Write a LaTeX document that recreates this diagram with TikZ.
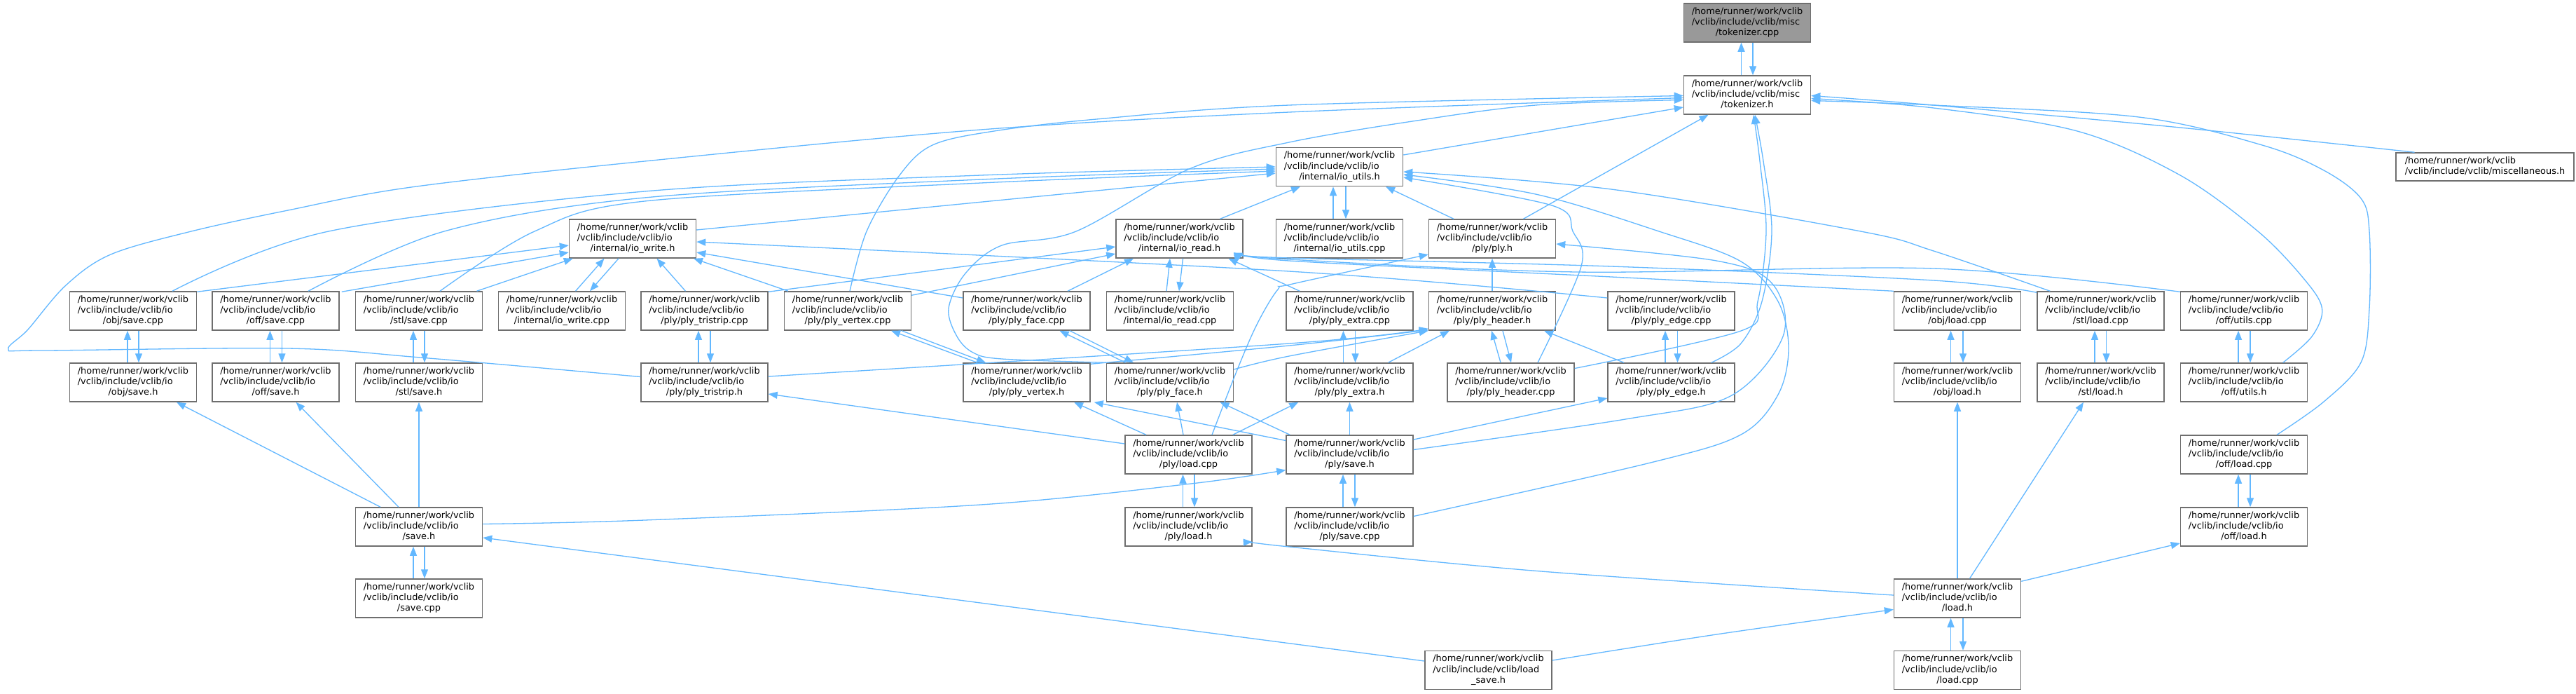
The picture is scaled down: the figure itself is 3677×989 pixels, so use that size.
\documentclass[tikz,border=0pt]{standalone}
\usepackage{fontspec}
\setmainfont{DejaVu Sans}
\usetikzlibrary{arrows.meta,calc}
\definecolor{edgecol}{RGB}{99,184,255}
\definecolor{bordercol}{RGB}{110,110,110}
\definecolor{hlfill}{RGB}{153,153,153}
\newcommand\flbl[3]{\begin{tabular}{@{}l@{}}#1\\#2\\\multicolumn{1}{@{}c@{}}{#3}\end{tabular}}
\newcommand\iol[1]{\flbl{/home/runner/work/vclib}{/vclib/include/vclib/io}{#1}}
\newcommand\twoway[4]{%
 \draw[dep] ($(#2.north)+(#3,0)$) -- ($(#1.south)+(#3,0)$);
 \draw[dep] ($(#1.south)+(#4,0)$) -- ($(#2.north)+(#4,0)$);}
\tikzset{
 fnode/.style={draw=bordercol, line width=1.5pt, fill=white, minimum width=181pt,
   minimum height=55pt, inner sep=0pt, font=\fontsize{12.9}{15.2}\selectfont},
 dep/.style={draw=edgecol, line width=1.3pt, -{Triangle[length=13pt,width=10pt,fill=edgecol]}},
}
\begin{document}
\begin{tikzpicture}[x=1pt,y=-1pt]
\fill[white] (0,0) rectangle (3677,989);
\useasboundingbox (0,0) rectangle (3677,989);
% row 0-2
\node[fnode,fill=hlfill] (tc) at (2494,32.5) {\flbl{/home/runner/work/vclib}{/vclib/include/vclib/misc}{/tokenizer.cpp}};
\node[fnode] (th) at (2494,135.5) {\flbl{/home/runner/work/vclib}{/vclib/include/vclib/misc}{/tokenizer.h}};
\node[fnode] (iou) at (1912,238) {\iol{/internal/io\_utils.h}};
\node[fnode,minimum width=254pt,minimum height=40pt] (misc) at (3547,238) {\begin{tabular}{@{}l@{}}/home/runner/work/vclib\\/vclib/include/vclib/miscellaneous.h\end{tabular}};
% row 3
\node[fnode] (iow) at (903,340.5) {\iol{/internal/io\_write.h}};
\node[fnode] (ior) at (1683.5,340.5) {\iol{/internal/io\_read.h}};
\node[fnode] (iouc) at (1912,340.5) {\iol{/internal/io\_utils.cpp}};
\node[fnode] (plyh) at (2130,340.5) {\iol{/ply/ply.h}};
% row 4
\node[fnode] (objsc) at (190,443.5) {\iol{/obj/save.cpp}};
\node[fnode] (offsc) at (393.5,443.5) {\iol{/off/save.cpp}};
\node[fnode] (stlsc) at (598,443.5) {\iol{/stl/save.cpp}};
\node[fnode] (iowc) at (802,443.5) {\iol{/internal/io\_write.cpp}};
\node[fnode] (tric) at (1005.5,443.5) {\iol{/ply/ply\_tristrip.cpp}};
\node[fnode] (vtxc) at (1210,443.5) {\iol{/ply/ply\_vertex.cpp}};
\node[fnode] (facec) at (1465.5,443.5) {\iol{/ply/ply\_face.cpp}};
\node[fnode] (iorc) at (1670,443.5) {\iol{/internal/io\_read.cpp}};
\node[fnode] (extrac) at (1926.5,443.5) {\iol{/ply/ply\_extra.cpp}};
\node[fnode] (hdrh) at (2130,443.5) {\iol{/ply/ply\_header.h}};
\node[fnode] (edgec) at (2385.5,443.5) {\iol{/ply/ply\_edge.cpp}};
\node[fnode] (objlc) at (2794,443.5) {\iol{/obj/load.cpp}};
\node[fnode] (stllc) at (2998.5,443.5) {\iol{/stl/load.cpp}};
\node[fnode] (offuc) at (3203,443.5) {\iol{/off/utils.cpp}};
% row 5
\node[fnode] (objsh) at (190,545.5) {\iol{/obj/save.h}};
\node[fnode] (offsh) at (393.5,545.5) {\iol{/off/save.h}};
\node[fnode] (stlsh) at (598,545.5) {\iol{/stl/save.h}};
\node[fnode] (trih) at (1005.5,545.5) {\iol{/ply/ply\_tristrip.h}};
\node[fnode] (vtxh) at (1465.5,545.5) {\iol{/ply/ply\_vertex.h}};
\node[fnode] (faceh) at (1670,545.5) {\iol{/ply/ply\_face.h}};
\node[fnode] (extrah) at (1926.5,545.5) {\iol{/ply/ply\_extra.h}};
\node[fnode] (hdrc) at (2156.5,545.5) {\iol{/ply/ply\_header.cpp}};
\node[fnode] (edgeh) at (2385.5,545.5) {\iol{/ply/ply\_edge.h}};
\node[fnode] (objlh) at (2794,545.5) {\iol{/obj/load.h}};
\node[fnode] (stllh) at (2998.5,545.5) {\iol{/stl/load.h}};
\node[fnode] (offuh) at (3203,545.5) {\iol{/off/utils.h}};
% row 6-9
\node[fnode] (plylc) at (1696.5,648.5) {\iol{/ply/load.cpp}};
\node[fnode] (plysh) at (1926.5,648.5) {\iol{/ply/save.h}};
\node[fnode] (offlc) at (3203,648.5) {\iol{/off/load.cpp}};
\node[fnode] (saveh) at (598,751.5) {\iol{/save.h}};
\node[fnode] (plylh) at (1696.5,751.5) {\iol{/ply/load.h}};
\node[fnode] (plysc) at (1926.5,751.5) {\iol{/ply/save.cpp}};
\node[fnode] (offlh) at (3203,751.5) {\iol{/off/load.h}};
\node[fnode] (savec) at (598,853.5) {\iol{/save.cpp}};
\node[fnode] (loadh) at (2794,853.5) {\iol{/load.h}};
\node[fnode] (lsh) at (2124.5,956) {\flbl{/home/runner/work/vclib}{/vclib/include/vclib/load}{\_save.h}};
\node[fnode] (loadc) at (2794,956) {\iol{/load.cpp}};
% two-way pairs
\twoway{tc}{th}{-8.5}{8}
\twoway{iou}{iouc}{-9}{9}
\twoway{objsc}{objsh}{-8}{8}
\twoway{offsc}{offsh}{-8}{9}
\twoway{stlsc}{stlsh}{-8}{8}
\twoway{tric}{trih}{-8.5}{8.5}
\twoway{extrac}{extrah}{-9}{8}
\twoway{edgec}{edgeh}{-8.5}{9}
\twoway{objlc}{objlh}{-9.5}{8}
\twoway{stllc}{stllh}{-8.5}{8}
\twoway{offuc}{offuh}{-8}{9}
\twoway{plylc}{plylh}{-8}{8.5}
\twoway{plysh}{plysc}{-9.5}{7.5}
\twoway{offlc}{offlh}{-8}{9}
\twoway{saveh}{savec}{-8}{8}
\twoway{loadh}{loadc}{-9.5}{8}
\draw[dep] ($(iorc.north)+(-5,0)$) -- ($(ior.south)+(-13.5,0)$);
\draw[dep] ($(ior.south)+(5,0)$) -- ($(iorc.north)+(13,0)$);
\draw[dep] ($(iowc.north)+(19.5,0)$) -- ($(iow.south)+(-40.5,0)$);
\draw[dep] ($(iow.south)+(-20,0)$) -- ($(iowc.north)+(40,0)$);
\draw[dep] ($(hdrc.north)+(-14.5,0)$) -- ($(hdrh.south)+(-1,0)$);
\draw[dep] ($(hdrh.south)+(15,0)$) -- ($(hdrc.north)+(0.5,0)$);
\draw[dep] ($(vtxh.north)+(-70.5,0)$) -- ($(vtxc.south)+(62,0)$);
\draw[dep] ($(vtxc.south)+(77,0)$) -- ($(vtxh.north)+(-58.5,0)$);
\draw[dep] ($(faceh.north)+(-63.5,0)$) -- ($(facec.south)+(47,0)$);
\draw[dep] ($(facec.south)+(61.5,0)$) -- ($(faceh.north)+(-52,0)$);
% into tokenizer.h
\draw[dep] ($(iou.east)+(0,-17)$) -- ($(th.west)+(0,17.5)$);
\draw[dep] ($(plyh.north)+(44.5,0)$) -- ($(th.south)+(-55.5,0)$);
\draw[dep] plot[smooth,tension=0.55] coordinates {($(trih.west)+(0,-8)$) (600,510) (411,497) (60,500) (12,498) (40,470) (94,407) (158,363) (273,330) (411,300) (587,267) (920,230) (1400,185) (1840,160) ($(th.west)+(0,4)$)};
\draw[dep] plot[smooth,tension=0.55] coordinates {($(vtxc.north)+(3,0)$) (1237,330) (1284,250) (1331,207) (1419,187) (1565,170) (1840,150) ($(th.west)+(0,1)$)};
\draw[dep] plot[smooth,tension=0.55] coordinates {($(faceh.north west)+(0,0)$) (1430,512) (1389,503) (1366,480) (1354,440) (1378,390) (1430,350) (1536,330) (1700,240) (1840,203) (2016,173) (2192,150) ($(th.west)+(0,7)$)};
\draw[dep] plot[smooth,tension=0.55] coordinates {($(misc.north)+(-100.5,0)$) (3112,182) (2760,150) ($(th.east)+(0,1)$)};
\draw[dep] plot[smooth,tension=0.55] coordinates {($(offuh.north)+(55.7,0)$) (3300,480) (3314.5,440) (3288,397) (3223,330) (3112,250) (2965,187) (2760,154) ($(th.east)+(0,5)$)};
\draw[dep] plot[smooth,tension=0.55] coordinates {($(offlc.north)+(47,0)$) (3317,573) (3370,517) (3382,440) (3382,330) (3370,283) (3317,243) (3229,207) (3053,167) (2760,150) ($(th.east)+(0,8)$)};
\draw[dep] plot[smooth,tension=0.55] coordinates {($(hdrc.east)+(0,-20)$) (2485,472) (2509,430) (2521,330) (2512,230) ($(th.south)+(9,0)$)};
\draw[dep] plot[smooth,tension=0.55] coordinates {($(edgeh.north east)+(-34,0)$) (2485,490) (2515,430) (2529,330) (2517,230) ($(th.south)+(11,0)$)};
% into io_utils.h
\draw[dep] ($(plyh.north)+(-55,0)$) -- ($(iou.south)+(66,0)$);
\draw[dep] ($(ior.north)+(58,0)$) -- ($(iou.south)+(-56,0)$);
\draw[dep] ($(iow.east)+(0,-12.5)$) -- ($(iou.west)+(0,9)$);
\draw[dep] plot[smooth,tension=0.55] coordinates {($(objsc.north)+(56,0)$) (469,330) (920,273) (1400,250) ($(iou.west)+(0,0)$)};
\draw[dep] plot[smooth,tension=0.55] coordinates {($(offsc.north)+(46.5,0)$) (634,330) (920,282) (1400,256) ($(iou.west)+(0,3)$)};
\draw[dep] plot[smooth,tension=0.55] coordinates {($(stlsc.north)+(30,0)$) (763,330) (920,287) (1400,261) ($(iou.west)+(0,6)$)};
\draw[dep] plot[smooth,tension=0.55] coordinates {($(hdrc.north)+(38.5,0)$) (2257,380) (2245,330) (2215,293) ($(iou.east)+(0,15)$)};
\draw[dep] plot[smooth,tension=0.55] coordinates {($(stllc.north west)+(19,0)$) (2760,358) (2656,330) (2300,270) ($(iou.east)+(0,7)$)};
\draw[dep] plot[smooth,tension=0.55] coordinates {($(plysc.east)+(0,-15)$) (2356,660) (2485,620) (2538,563) (2553,497) (2538,430) (2485,373) (2368,330) (2192,277) ($(iou.east)+(0,11)$)};
% into io_read.h
\draw[dep] ($(tric.north east)+(0,1)$) -- ($(ior.west)+(0,11.5)$);
\draw[dep] ($(vtxc.north east)+(0,6)$) -- ($(ior.west)+(0,21.5)$);
\draw[dep] ($(facec.north)+(58.5,0)$) -- ($(ior.south)+(-65.5,0)$);
\draw[dep] ($(extrac.north west)+(20,0)$) -- ($(ior.south)+(70,0)$);
\draw[dep] plot[smooth,tension=0.55] coordinates {($(objlc.north west)+(0,0)$) (2300,395) (1840,372) ($(ior.east)+(0,20)$)};
\draw[dep] plot[smooth,tension=0.55] coordinates {($(stllc.north west)+(0,2)$) (2760,400) (2300,380) (1840,368) ($(ior.east)+(0,23)$)};
\draw[dep] plot[smooth,tension=0.55] coordinates {($(offuc.north west)+(0,1)$) (2760,383) (2251,388) (1840,370) ($(ior.east)+(0,21)$)};
% into io_write.h
\draw[dep] ($(objsc.north east)+(0,1)$) -- ($(iow.west)+(0,9.5)$);
\draw[dep] ($(offsc.north east)+(3,1)$) -- ($(iow.west)+(0,19.5)$);
\draw[dep] ($(stlsc.north)+(82.5,0)$) -- ($(iow.south west)+(6,0)$);
\draw[dep] ($(tric.north)+(-27,0)$) -- ($(iow.south)+(34.5,0)$);
\draw[dep] ($(vtxc.north)+(-85,0)$) -- ($(iow.south)+(87,0)$);
\draw[dep] ($(facec.west)+(0,-18.5)$) -- ($(iow.east)+(0,19.5)$);
\draw[dep] plot[smooth,tension=0.55] coordinates {($(edgec.west)+(0,-18.5)$) (1840,387) ($(iow.east)+(0,4.5)$)};
% into ply.h
\draw[dep] (hdrh.north) -- (plyh.south);
\draw[dep] plot[smooth,tension=0.55] coordinates {($(plylc.north)+(33.5,0)$) (1765,530) (1794,463) (1824,413) (1845,405) ($(plyh.west)+(0,22.5)$)};
\draw[dep] plot[smooth,tension=0.55] coordinates {($(plysh.east)+(0,-7)$) (2320,598) (2470,565) (2545,480) (2530,405) (2450,372) ($(plyh.east)+(0,7.5)$)};
% into ply_header.h
\draw[dep] plot[smooth,tension=0.55] coordinates {($(trih.east)+(0,-8.5)$) (1840,490) ($(hdrh.south west)+(0,-3)$)};
\draw[dep] plot[smooth,tension=0.55] coordinates {($(vtxh.north east)+(0,2)$) (1840,493) ($(hdrh.south west)+(0,-1)$)};
\draw[dep] plot[smooth,tension=0.55] coordinates {($(faceh.east)+(0,-18.5)$) (1840,508) ($(hdrh.south west)+(0,0)$)};
\draw[dep] ($(extrah.north)+(55,0)$) -- ($(hdrh.south)+(-61,0)$);
\draw[dep] ($(edgeh.north)+(-67.5,0)$) -- ($(hdrh.south)+(74,0)$);
% lower ply
\draw[dep] ($(plysh.east)+(0,-21.5)$) -- ($(edgeh.west)+(0,22.5)$);
\draw[dep] (plysh.north) -- (extrah.south);
\draw[dep] ($(plylc.north east)+(-28,0)$) -- ($(extrah.south west)+(18,0)$);
\draw[dep] ($(plylc.north)+(-60.5,0)$) -- ($(vtxh.south)+(67.5,0)$);
\draw[dep] ($(plysh.west)+(0,-20)$) -- ($(vtxh.south east)+(5,0)$);
\draw[dep] ($(plysh.north west)+(6,0)$) -- ($(faceh.south)+(71.5,0)$);
\draw[dep] ($(plylc.north)+(-7.5,0)$) -- ($(faceh.south)+(10,0)$);
\draw[dep] ($(plylc.west)+(0,-15.5)$) -- ($(trih.east)+(0,16.5)$);
% save / load
\draw[dep] ($(lsh.west)+(0,-13)$) -- ($(saveh.east)+(0,15.5)$);
\draw[dep] plot[smooth,tension=0.55] coordinates {($(lsh.east)+(0,-14)$) (2450,905) ($(loadh.west)+(0,16)$)};
\draw[dep] plot[smooth,tension=0.55] coordinates {($(loadh.west)+(0,-4.5)$) (2200,815) (1840,780) ($(plylh.east)+(0,21.5)$)};
\draw[dep] (loadh.north) -- (objlh.south);
\draw[dep] ($(loadh.north)+(17.5,0)$) -- ($(stllh.south)+(-24.5,0)$);
\draw[dep] ($(loadh.north east)+(0,4)$) -- ($(offlh.west)+(0,23.5)$);
\draw[dep] ($(saveh.north)+(-55,0)$) -- ($(objsh.south)+(62,0)$);
\draw[dep] ($(saveh.north)+(-29,0)$) -- ($(offsh.south)+(29,0)$);
\draw[dep] (saveh.north) -- (stlsh.south);
\draw[dep] plot[smooth,tension=0.55] coordinates {($(saveh.east)+(0,-4)$) (920,742) (1400,720) (1700,690) ($(plysh.west)+(0,22)$)};
\end{tikzpicture}
\end{document}
